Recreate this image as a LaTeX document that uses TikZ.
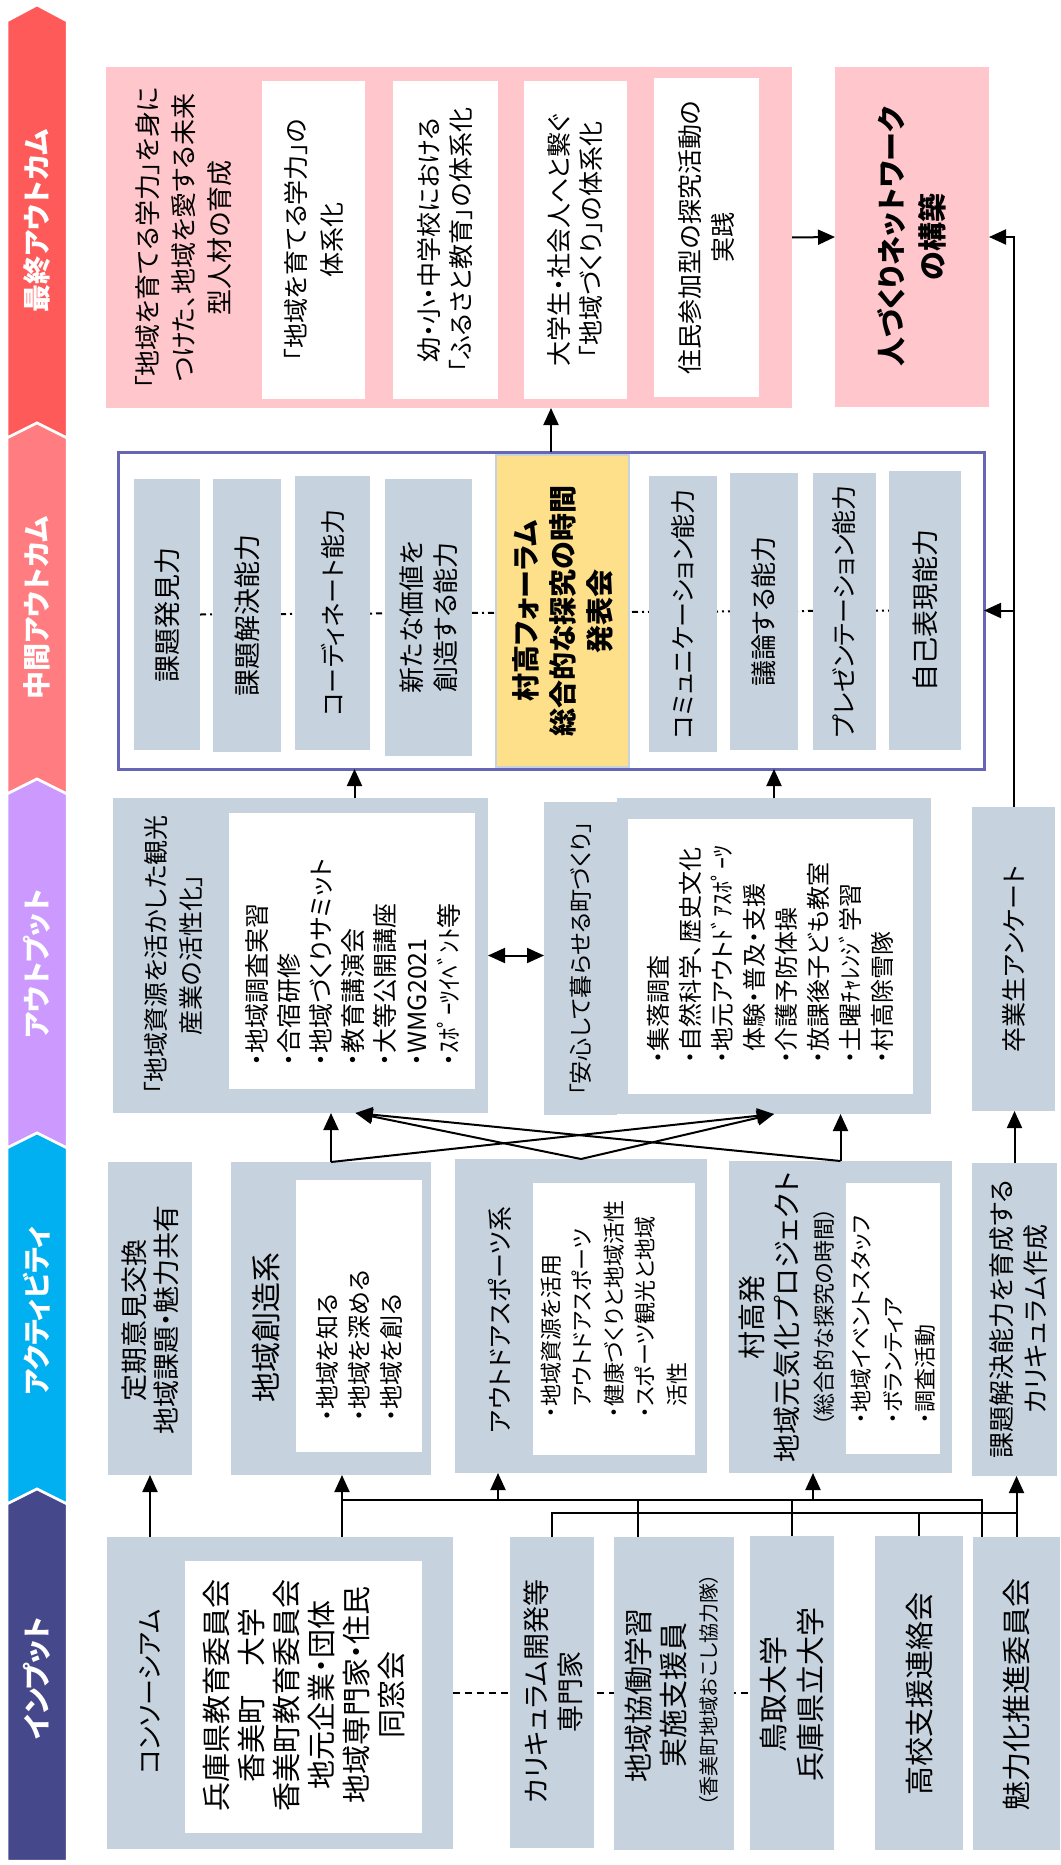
\documentclass[tikz,border=0pt]{standalone}
\usepackage{fontspec}
\setmainfont{Noto Sans CJK JP}[RawFeature=+palt]
\usetikzlibrary{arrows.meta,fit,calc}
\pgfdeclarelayer{back}\pgfdeclarelayer{lines}
\pgfsetlayers{back,lines,main}
\definecolor{bandA}{RGB}{255,90,90}
\definecolor{bandB}{RGB}{255,124,128}
\definecolor{bandC}{RGB}{204,153,255}
\definecolor{bandD}{RGB}{0,176,240}
\definecolor{bandE}{RGB}{70,72,140}
\definecolor{pinkc}{RGB}{255,198,204}
\definecolor{grayc}{RGB}{198,210,222}
\definecolor{yelc}{RGB}{255,224,138}
\definecolor{framec}{RGB}{102,102,180}
\newcommand\fz[2]{\fontsize{#1}{#2}\selectfont}
\begin{document}
\begin{tikzpicture}[x=1pt,y=-1pt,
  gbox/.style={fill=grayc,inner sep=0pt,outer sep=0pt},
  wbox/.style={fill=white,inner sep=0pt,outer sep=0pt},
  pbox/.style={fill=pinkc,inner sep=0pt,outer sep=0pt},
  rt/.style={rotate=90,align=center,inner sep=0pt},
  rl/.style={rotate=90,align=left,inner sep=0pt,anchor=west},
  bandshape/.style={draw=white,line width=2.5pt},
  bandlbl/.style={rotate=90,text=white,inner sep=0pt,font=\bfseries\fz{28}{32}},
  ln/.style={line width=2pt},
  arr/.style={line width=2pt,-{Triangle[length=17pt,width=15pt]}},
  darr/.style={line width=2pt,{Triangle[length=17pt,width=15pt]}-{Triangle[length=17pt,width=15pt]}},
]
\useasboundingbox (0,0) rectangle (1060,1865);
\begin{pgfonlayer}{back}
\fill[white] (0,0) rectangle (1060,1865);
\node[fill=white,draw=framec,line width=3pt,inner sep=0pt,outer sep=0pt,fit={(118,452) (984,769)}] (MB) {};
\end{pgfonlayer}

% bands
\filldraw[bandshape,fill=bandA] (7,21) -- (37,5) -- (67,21) -- (67,438) -- (37,423) -- (7,438) -- cycle;
\filldraw[bandshape,fill=bandB] (7,438) -- (37,423) -- (67,438) -- (67,794) -- (37,779) -- (7,794) -- cycle;
\filldraw[bandshape,fill=bandC] (7,794) -- (37,779) -- (67,794) -- (67,1148) -- (37,1133) -- (7,1148) -- cycle;
\filldraw[bandshape,fill=bandD] (7,1148) -- (37,1133) -- (67,1148) -- (67,1504) -- (37,1489) -- (7,1504) -- cycle;
\filldraw[bandshape,fill=bandE] (7,1504) -- (37,1489) -- (67,1504) -- (67,1861) -- (7,1861) -- cycle;
\node[bandlbl] (L1) at (37,221) {最終アウトカム};
\node[bandlbl] (L2) at (37,608) {中間アウトカム};
\node[bandlbl] (L3) at (37,964) {アウトプット};
\node[bandlbl] (L4) at (37,1311) {アクティビティ};
\node[bandlbl] (L5) at (37,1678) {インプット};

% final outcome
\node[pbox,fit={(106,67) (792,408)}] (P) {};
\node[wbox,fit={(262,81) (365,399)}] (W1) {};
\node[wbox,fit={(393,81) (498,399)}] (W2) {};
\node[wbox,fit={(524,81) (627,399)}] (W3) {};
\node[wbox,fit={(654,78) (759,397)}] (W4) {};
\node[rt,font=\fz{26}{36}] (tP) at (184,238) {「地域を育てる学力」を身に\\つけた、地域を愛する未来\\型人材の育成};
\node[rt,font=\fz{25}{36}] (tW1) at (W1.center) {「地域を育てる学力」の\\体系化};
\node[rt,font=\fz{25}{32}] (tW2) at (W2.center) {幼・小・中学校における\\「ふるさと教育」の体系化};
\node[rt,font=\fz{25}{32}] (tW3) at (W3.center) {大学生・社会人へと繋ぐ\\「地域づくり」の体系化};
\node[rt,font=\fz{25}{33}] (tW4) at (W4.center) {住民参加型の探究活動の\\実践};
\node[pbox,fit={(835,67) (989,407)}] (N) {};
\node[rt,font=\bfseries\fz{29}{41}] (tN) at (N.center) {人づくりネットワーク\\の構築};

% intermediate outcome
\node[gbox,fit={(134,479) (200,750)}] (M1) {};
\node[gbox,fit={(213,479) (281,752)}] (M2) {};
\node[gbox,fit={(295,476) (370,750)}] (M3) {};
\node[gbox,fit={(385,479) (472,756)}] (M4) {};
\node[fill=yelc,draw=grayc,line width=1.5pt,inner sep=0pt,outer sep=0pt,fit={(496,455) (629,767)}] (MY) {};
\node[gbox,fit={(649,476) (717,752)}] (M6) {};
\node[gbox,fit={(730,473) (798,750)}] (M7) {};
\node[gbox,fit={(813,473) (876,750)}] (M8) {};
\node[gbox,fit={(889,471) (961,750)}] (M9) {};
\node[rt,font=\fz{27}{34}] (tM1) at (M1.center) {課題発見力};
\node[rt,font=\fz{27}{34}] (tM2) at (M2.center) {課題解決能力};
\node[rt,font=\fz{25}{34}] (tM3) at (M3.center) {コーディネート能力};
\node[rt,font=\fz{26}{34}] (tM4) at (M4.center) {新たな価値を\\創造する能力};
\node[rt,font=\bfseries\fz{28}{37}] (tMY) at (MY.center) {村高フォーラム\\総合的な探究の時間\\発表会};
\node[rt,font=\fz{25}{34}] (tM6) at (M6.center) {コミュニケーション能力};
\node[rt,font=\fz{26}{34}] (tM7) at (M7.center) {議論する能力};
\node[rt,font=\fz{25}{34}] (tM8) at (M8.center) {プレゼンテーション能力};
\node[rt,font=\fz{27}{34}] (tM9) at (M9.center) {自己表現能力};

% output
\node[gbox,fit={(113,798) (488,1113)}] (O1) {};
\node[wbox,fit={(229,813) (475,1089)}] (O1w) {};
\node[rt,font=\fz{25}{35}] (tO1) at (173,955) {「地域資源を活かした観光\\産業の活性化」};
\node[rl,font=\fz{25}{32}] (lO1) at (353,1066) {・地域調査実習\\・合宿研修\\・地域づくりサミット\\・教育講演会\\・大等公開講座\\・WMG2021\\・ｽﾎﾟｰﾂｲﾍﾞﾝﾄ等};
\node[gbox,fit={(544,802) (617,1115)}] (O2L) {};
\node[gbox,fit={(617,798) (931,1114)}] (O2) {};
\node[wbox,fit={(628,819) (913,1094)}] (O2w) {};
\node[rt,font=\fz{23}{30}] (tO2) at (O2L.center) {「安心して暮らせる町づくり」};
\node[rl,font=\fz{24}{32}] (lO2) at (770,1064) {・集落調査\\・自然科学、歴史文化\\・地元アウトﾄﾞｱｽﾎﾟｰﾂ\\\phantom{・}体験・普及・支援\\・介護予防体操\\・放課後子ども教室\\・土曜ﾁｬﾚﾝｼﾞ学習\\・村高除雪隊};
\node[gbox,fit={(972,807) (1055,1111)}] (G) {};
\node[rt,font=\fz{25}{30}] (tG) at (G.center) {卒業生アンケート};

% activity
\node[gbox,fit={(108,1162) (192,1475)}] (A1) {};
\node[rt,font=\fz{27}{32}] (tA1) at (150,1320) {定期意見交換\\地域課題・魅力共有};
\node[gbox,fit={(231,1162) (431,1475)}] (A2) {};
\node[wbox,fit={(296,1180) (422,1452)}] (A2w) {};
\node[rt,font=\fz{30}{32}] (tA2) at (266,1327) {地域創造系};
\node[rl,font=\fz{24}{32}] (lA2) at (359,1422) {・地域を知る\\・地域を深める\\・地域を創る};
\node[gbox,fit={(455,1159) (707,1473)}] (A3) {};
\node[wbox,fit={(533,1183) (695,1455)}] (A3w) {};
\node[rt,font=\fz{25}{30}] (tA3) at (500,1320) {アウトドアスポーツ系};
\node[rl,font=\fz{22}{31.5}] (lA3) at (614,1418) {・地域資源を活用\\\phantom{・}アウトドアスポーツ\\・健康づくりと地域活性\\・スポーツ観光と地域\\\phantom{・}活性};
\node[gbox,fit={(729,1161) (952,1473)}] (A4) {};
\node[wbox,fit={(846,1183) (940,1454)}] (A4w) {};
\node[rt,font=\fz{28}{32}] (tA4a) at (752,1317) {村高発};
\node[rt,font=\fz{28}{32}] (tA4b) at (787,1317) {地域元気化プロジェクト};
\node[rt,font=\fz{22}{24}] (tA4c) at (824,1317) {（総合的な探究の時間）};
\node[rl,font=\fz{22}{32}] (lA4) at (893,1424) {・地域イベントスタッフ\\・ボランティア\\・調査活動};
\node[gbox,fit={(972,1163) (1057,1476)}] (A5) {};
\node[rt,font=\fz{26}{34}] (tA5) at (1019,1319) {課題解決能力を育成する\\カリキュラム作成};

% input
\node[gbox,fit={(107,1537) (453,1849)}] (I1) {};
\node[wbox,fit={(185,1561) (422,1833)}] (I1w) {};
\node[rt,font=\fz{26}{30}] (tI1) at (150,1692) {コンソーシアム};
\node[rt,font=\fz{29}{35}] (lI1) at (304,1695) {兵庫県教育委員会\\香美町　大学\\香美町教育委員会\\地元企業・団体\\地域専門家・住民\\同窓会};
\node[gbox,fit={(510,1537) (594,1848)}] (I2) {};
\node[rt,font=\fz{27}{34}] (tI2) at (553,1692) {カリキュラム開発等\\専門家};
\node[gbox,fit={(614,1537) (734,1850)}] (I3) {};
\node[rt,font=\fz{29}{35}] (tI3) at (656,1695) {地域協働学習\\実施支援員};
\node[rt,font=\fz{20}{22}] (tI3b) at (709,1690) {（香美町地域おこし協力隊）};
\node[gbox,fit={(750,1536) (834,1850)}] (I4) {};
\node[rt,font=\fz{29}{37}] (tI4) at (792,1694) {鳥取大学\\兵庫県立大学};
\node[gbox,fit={(875,1536) (963,1850)}] (I5) {};
\node[rt,font=\fz{29}{34}] (tI5) at (919,1694) {高校支援連絡会};
\node[gbox,fit={(973,1537) (1060,1850)}] (I6) {};
\node[rt,font=\fz{29}{34}] (tI6) at (1016,1694) {魅力化推進委員会};

% dotted / dashed lines behind boxes
\begin{pgfonlayer}{lines}
\draw[line width=2pt,dash pattern=on 6pt off 4pt on 2pt off 4pt] (M1.east) -- (M9.west);
\draw[line width=2pt,dash pattern=on 7pt off 5pt] (I1.east) -- (I4.west);
\end{pgfonlayer}

% input -> activity
\coordinate (jL) at (342,1500);
\coordinate (jR) at (982,1500);
\coordinate (jA3) at (498,1500);
\coordinate (jI3) at (638,1500);
\coordinate (jA4) at (813,1500);
\coordinate (kL) at (552,1513);
\coordinate (kR) at (1016,1513);
\draw[arr] (A1.south |- I1.north) -- (A1.south);
\draw[arr] (jL |- I1.north) -- (jL |- A2.south);
\draw[ln] (jL) -- (jR) -- (jR |- I6.north);
\draw[arr] (jA3) -- (jA3 |- A3.south);
\draw[ln] (jI3) -- (jI3 |- I3.north);
\draw[ln] (I4.north |- jL) -- (I4.north);
\draw[arr] (jA4) -- (jA4 |- A4.south);
\draw[ln] (I2.north) -- (I2.north |- kL) -- (kR);
\draw[ln] (I5.north |- kL) -- (I5.north);
\draw[arr] (I6.north) -- (I6.north |- A5.south);

% activity -> output
\coordinate (o1b) at ($(O1.south)+(55,0)$);
\draw[arr] (A2.north) -- (A2.north |- O1.south);
\draw[arr] (A2.north) -- (O2.south);
\draw[arr] (A3.north) -- (o1b);
\draw[arr] (A3.north) -- (O2.south);
\draw[arr] (A4.north) -- (o1b);
\draw[arr] (A4.north) -- (A4.north |- O2.south);
\draw[arr] (A5.north) -- (A5.north |- G.south);

% output -> intermediate -> final
\coordinate (o1t) at ($(O1.north)+(54,0)$);
\draw[arr] (o1t) -- (o1t |- MB.south);
\draw[arr] (O2.north) -- (O2.north |- MB.south);
\draw[darr] (O1.east) -- (O1.east -| O2L.west);
\draw[arr] (MB.north) -- (MB.north |- P.south);
\draw[arr] (P.east) -- (N.west);
\draw[arr] (G.north) |- (N.east);
\draw[arr] (G.north |- MB.east) -- (MB.east);
\end{tikzpicture}
\end{document}
